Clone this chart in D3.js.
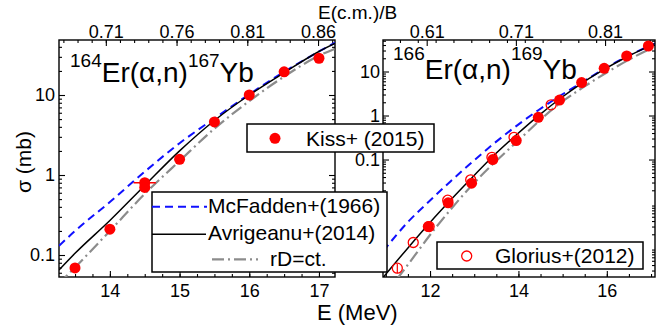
<!DOCTYPE html>
<html>
<head>
<meta charset="utf-8">
<script src="https://cdn.jsdelivr.net/npm/d3@7"></script>
<style>
  body { margin: 0; background: #fff; }
  text { font-family: "Liberation Sans", Arial, Helvetica, sans-serif; fill: #000; }
</style>
</head>
<body>
<svg id="chart" width="656" height="332"></svg>
<script>
// ---------- 164Er(α,n)167Yb ----------
const er164KissE     = [13.5, 14.0, 14.5, 14.5, 15.0, 15.5, 16.0, 16.5, 17.0];
const er164KissSigma = [0.069, 0.21, 0.80, 0.70, 1.57, 4.6, 10.0, 19.5, 28.8];
const er164KissErrE  = [0, 0, 0.16, 0, 0, 0, 0, 0, 0];
const er164CurveE    = [13.27, 13.5, 14.0, 14.5, 15.0, 15.5, 16.0, 16.5, 17.0, 17.23];
const er164McFadden  = [0.13, 0.2, 0.46, 1.1, 2.5, 5.1, 10.2, 19.5, 35, 45];
const er164Avrigeanu = [0.065, 0.105, 0.27, 0.74, 2.0, 4.8, 10, 19, 35, 44];
const er164RDct      = [0.044, 0.07, 0.2, 0.58, 1.5, 3.8, 8.4, 17, 31, 38];

// ---------- 166Er(α,n)169Yb ----------
const er166KissE        = [11.96, 12.41, 12.94, 13.42, 13.95, 14.45, 14.93, 15.43, 15.94, 16.45, 16.94];
const er166KissSigma    = [0.003, 0.0104, 0.029, 0.10, 0.27, 0.91, 2.25, 5.6, 11.8, 22.5, 38];
const er166GloriusE     = [11.26, 11.62, 11.98, 12.40, 12.92, 13.40, 13.90, 14.74];
const er166GloriusSigma = [0.00034, 0.0013, 0.003, 0.0119, 0.0345, 0.112, 0.32, 1.75];
const er166GloriusErr   = [0.00008, 0, 0, 0, 0, 0, 0, 0];
const er166CurveE       = [10.94, 11.5, 12.0, 12.45, 12.87, 13.42, 13.95, 14.45, 14.93, 15.43, 15.94, 16.45, 16.94, 17.09];
const er166McFadden     = [8.3e-4, 3.8e-3, 0.0117, 0.031, 0.074, 0.22, 0.575, 1.32, 2.75, 5.6, 11.5, 21.9, 37.2, 43.2];
const er166Avrigeanu    = [2.1e-4, 9.8e-4, 3.7e-3, 0.0115, 0.032, 0.117, 0.36, 0.98, 2.37, 5.4, 11.2, 21.4, 36.7, 42.8];
const er166RDctE        = [10.94, 11.28, 12.15, 13.02, 13.96, 14.94, 15.47, 16.0, 16.5, 17.09];
const er166RDct         = [7.9e-5, 2.1e-4, 3.0e-3, 0.031, 0.25, 1.9, 4.4, 9.5, 18.6, 37];

// ---------- tick labels ----------
const er164BottomTicks = [14, 15, 16, 17];
const er164TopTicks    = [0.71, 0.76, 0.81, 0.86];
const er164YTicks      = [0.1, 1, 10];
const er166BottomTicks = [12, 14, 16];
const er166TopTicks    = [0.61, 0.71, 0.81];
const er166YTicks      = [0.1, 1, 10];

const BLUE = "#1010ff", RED = "#ff0000", GRAY = "#8c8c8c";
const svg = d3.select("#chart");
const zip = (a, b) => a.map((v, i) => [v, b[i]]);

const panels = [
  {
    id: "er164", left: 59, right: 335, top: 40, bottom: 277,
    xDomain: [13.27, 17.23], yDomain: [0.0531, 48.7], topDomain: [0.6769, 0.872],
    xMinorStep: 0.25, topMinorStep: 0.01, yLabelPad: 4,
    bottomTicks: er164BottomTicks, topTicks: er164TopTicks, yTicks: er164YTicks,
    target: "164", product: "167", titleX: 70, supY: 67, baseY: 82,
    curves: [
      { e: er164CurveE, s: er164McFadden, kind: "mcfadden" },
      { e: er164CurveE, s: er164Avrigeanu, kind: "avrigeanu" },
      { e: er164CurveE, s: er164RDct, kind: "rdct" }
    ],
    filled: { e: er164KissE, s: er164KissSigma, errE: er164KissErrE },
    open: null
  },
  {
    id: "er166", left: 383, right: 655, top: 40, bottom: 277,
    xDomain: [10.936, 17.09], yDomain: [2.14e-4, 52.0], topDomain: [0.561, 0.866],
    xMinorStep: 0.5, topMinorStep: 0.02, yLabelPad: 3,
    bottomTicks: er166BottomTicks, topTicks: er166TopTicks, yTicks: er166YTicks,
    target: "166", product: "169", titleX: 393, supY: 60, baseY: 79,
    curves: [
      { e: er166CurveE, s: er166McFadden, kind: "mcfadden" },
      { e: er166CurveE, s: er166Avrigeanu, kind: "avrigeanu" },
      { e: er166RDctE, s: er166RDct, kind: "rdct" }
    ],
    filled: { e: er166KissE, s: er166KissSigma, errE: null },
    open: { e: er166GloriusE, s: er166GloriusSigma, err: er166GloriusErr }
  }
];

const curveStyle = {
  mcfadden:  { stroke: BLUE, width: 2, dash: "8,5" },
  avrigeanu: { stroke: "#000", width: 1.5, dash: null },
  rdct:      { stroke: GRAY, width: 2.2, dash: "12,4,2,4" }
};

function logMinor(domain) {
  const out = [];
  for (let d = Math.floor(Math.log10(domain[0])); d <= Math.ceil(Math.log10(domain[1])); d++) {
    for (let k = 2; k <= 9; k++) {
      const v = k * Math.pow(10, d);
      if (v >= domain[0] && v <= domain[1]) out.push(v);
    }
  }
  return out;
}
function linMinor(domain, step) {
  const out = [];
  for (let v = Math.ceil(domain[0] / step) * step; v <= domain[1] + 1e-9; v += step) out.push(+v.toFixed(4));
  return out;
}
function styleAxis(sel) {
  sel.select(".domain").remove();
  sel.selectAll(".tick line").attr("stroke", "#000").attr("stroke-width", 1.1);
  sel.selectAll(".tick text").attr("fill", "#000").style("font-size", "18px")
     .style("font-family", '"Liberation Sans", Arial, sans-serif');
}

panels.forEach(p => {
  const g = svg.append("g").attr("class", p.id);
  const x = d3.scaleLinear().domain(p.xDomain).range([p.left, p.right]);
  const xTop = d3.scaleLinear().domain(p.topDomain).range([p.left, p.right]);
  const y = d3.scaleLog().domain(p.yDomain).range([p.bottom, p.top]);

  g.append("clipPath").attr("id", "clip-" + p.id)
    .append("rect").attr("x", p.left).attr("y", p.top)
    .attr("width", p.right - p.left).attr("height", p.bottom - p.top);

  // minor ticks
  g.append("g").attr("transform", `translate(0,${p.bottom})`)
    .call(d3.axisBottom(x).tickValues(linMinor(p.xDomain, p.xMinorStep)).tickSize(-3).tickFormat(""))
    .call(styleAxis);
  g.append("g").attr("transform", `translate(0,${p.top})`)
    .call(d3.axisTop(xTop).tickValues(linMinor(p.topDomain, p.topMinorStep)).tickSize(-3).tickFormat(""))
    .call(styleAxis);
  g.append("g").attr("transform", `translate(${p.left},0)`)
    .call(d3.axisLeft(y).tickValues(logMinor(p.yDomain)).tickSize(-3).tickFormat(""))
    .call(styleAxis);
  g.append("g").attr("transform", `translate(${p.right},0)`)
    .call(d3.axisRight(y).tickValues(logMinor(p.yDomain)).tickSize(-3).tickFormat(""))
    .call(styleAxis);

  // major ticks with labels
  g.append("g").attr("transform", `translate(0,${p.bottom})`)
    .call(d3.axisBottom(x).tickValues(p.bottomTicks).tickSize(-6).tickPadding(7).tickFormat(d3.format("d")))
    .call(styleAxis);
  g.append("g").attr("transform", `translate(0,${p.top})`)
    .call(d3.axisTop(xTop).tickValues(p.topTicks).tickSize(-6).tickPadding(2.5).tickFormat(d3.format(".2f")))
    .call(styleAxis);
  g.append("g").attr("transform", `translate(${p.left},0)`)
    .call(d3.axisLeft(y).tickValues(p.yTicks).tickSize(-6).tickPadding(p.yLabelPad).tickFormat(d => String(d)))
    .call(styleAxis);
  g.append("g").attr("transform", `translate(${p.right},0)`)
    .call(d3.axisRight(y).tickValues(p.yTicks).tickSize(-6).tickFormat(""))
    .call(styleAxis);

  // frame
  g.append("rect").attr("x", p.left).attr("y", p.top)
    .attr("width", p.right - p.left).attr("height", p.bottom - p.top)
    .attr("fill", "none").attr("stroke", "#000").attr("stroke-width", 1.4);

  // reaction title
  const t = g.append("text").attr("x", p.titleX).attr("y", p.supY);
  t.append("tspan").style("font-size", "19px").text(p.target);
  t.append("tspan").style("font-size", "28px").attr("dy", p.baseY - p.supY).text("Er(α,n)");
  t.append("tspan").style("font-size", "19px").attr("dy", p.supY - p.baseY).text(p.product);
  t.append("tspan").style("font-size", "28px").attr("dy", p.baseY - p.supY).text("Yb");

  // model curves
  const line = d3.line().x(d => x(d[0])).y(d => y(d[1])).curve(d3.curveMonotoneX);
  const cg = g.append("g").attr("clip-path", `url(#clip-${p.id})`);
  p.curves.forEach(c => {
    const st = curveStyle[c.kind];
    cg.append("path").datum(zip(c.e, c.s)).attr("d", line)
      .attr("fill", "none").attr("stroke", st.stroke).attr("stroke-width", st.width)
      .attr("stroke-dasharray", st.dash);
  });

  // open-circle data (Glorius+ 2012)
  if (p.open) {
    const od = p.open.e.map((e, i) => ({ e, s: p.open.s[i], err: p.open.err[i] }));
    g.append("g").selectAll("line").data(od.filter(d => d.err > 0)).join("line")
      .attr("x1", d => x(d.e)).attr("x2", d => x(d.e))
      .attr("y1", d => y(d.s - d.err)).attr("y2", d => y(d.s + d.err))
      .attr("stroke", RED).attr("stroke-width", 1.2);
    g.append("g").selectAll("circle").data(od).join("circle")
      .attr("cx", d => x(d.e)).attr("cy", d => y(d.s)).attr("r", 5)
      .attr("fill", "none").attr("stroke", RED).attr("stroke-width", 1.3);
  }

  // filled-circle data (Kiss+ 2015)
  const fd = p.filled.e.map((e, i) => ({ e, s: p.filled.s[i], errE: p.filled.errE ? p.filled.errE[i] : 0 }));
  g.append("g").selectAll("line").data(fd.filter(d => d.errE > 0)).join("line")
    .attr("x1", d => x(d.e - d.errE)).attr("x2", d => x(d.e + d.errE))
    .attr("y1", d => y(d.s)).attr("y2", d => y(d.s))
    .attr("stroke", RED).attr("stroke-width", 1.5);
  g.append("g").selectAll("circle").data(fd).join("circle")
    .attr("cx", d => x(d.e)).attr("cy", d => y(d.s)).attr("r", 5.5)
    .attr("fill", RED);
});

// axis titles
svg.append("text").attr("x", 318).attr("y", 18.5).style("font-size", "19px").text("E(c.m.)/B");
svg.append("text").attr("x", 317).attr("y", 320).style("font-size", "22px").text("E (MeV)");
svg.append("text").attr("transform", "translate(31,162) rotate(-90)")
  .attr("text-anchor", "middle").style("font-size", "21px").text("σ (mb)");

// legends
const lg = svg.append("g").attr("class", "legends");
function box(x0, y0, w, h) {
  lg.append("rect").attr("x", x0).attr("y", y0).attr("width", w).attr("height", h)
    .attr("fill", "#fff").attr("stroke", "#000").attr("stroke-width", 1.5);
}
// Kiss+ (2015)
box(247, 124, 187, 28);
lg.append("circle").attr("cx", 275).attr("cy", 138.3).attr("r", 5.5).attr("fill", RED);
lg.append("text").attr("x", 306).attr("y", 146).style("font-size", "21px").text("Kiss+ (2015)");
// model curves
box(152, 192, 235, 80);
const modelRows = [
  { kind: "mcfadden",  label: "McFadden+(1966)",  x1: 152, x2: 207, ly: 206.7, tx: 208, ty: 213.3 },
  { kind: "avrigeanu", label: "Avrigeanu+(2014)", x1: 152, x2: 206, ly: 234.3, tx: 208, ty: 240 },
  { kind: "rdct",      label: "rD=ct.",           x1: 212, x2: 258, ly: 259.3, tx: 270, ty: 266 }
];
modelRows.forEach(r => {
  const st = curveStyle[r.kind];
  lg.append("line").attr("x1", r.x1).attr("x2", r.x2).attr("y1", r.ly).attr("y2", r.ly)
    .attr("stroke", st.stroke).attr("stroke-width", st.width).attr("stroke-dasharray", st.dash);
  lg.append("text").attr("x", r.tx).attr("y", r.ty).style("font-size", "21px").text(r.label);
});
// Glorius+(2012)
box(437, 242, 206, 27);
lg.append("circle").attr("cx", 466.7).attr("cy", 256).attr("r", 5)
  .attr("fill", "none").attr("stroke", RED).attr("stroke-width", 1.3);
lg.append("text").attr("x", 495).attr("y", 263).style("font-size", "21px").text("Glorius+(2012)");
</script>
</body>
</html>
